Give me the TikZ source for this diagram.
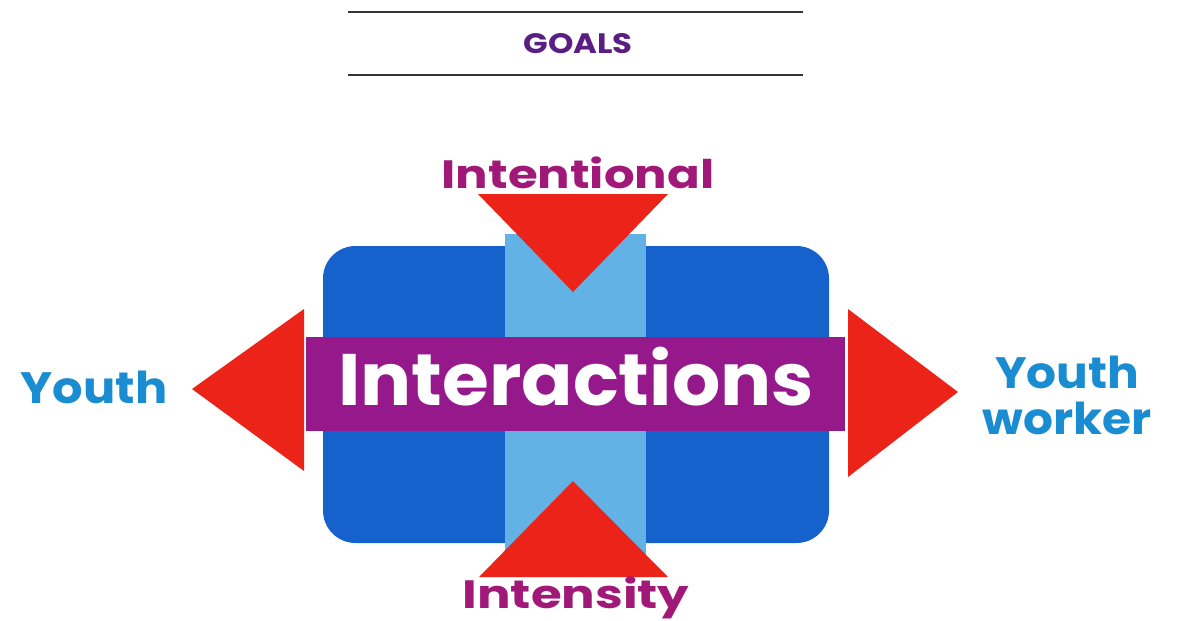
\documentclass[tikz,border=0pt]{standalone}
\usepackage{fontspec}
\setmainfont{Poppins}
\usetikzlibrary{positioning}
\definecolor{boxblue}{RGB}{22,98,205}
\definecolor{bandblue}{RGB}{98,178,230}
\definecolor{bandpurple}{RGB}{150,25,140}
\definecolor{arrowred}{RGB}{235,35,25}
\definecolor{labelmagenta}{RGB}{160,25,120}
\definecolor{labelcyan}{RGB}{25,140,210}
\definecolor{goalpurple}{RGB}{90,30,130}
% the printed face is wider than Poppins
\newcommand{\wide}[2]{\scalebox{#1}[1]{#2}}

\begin{document}
\begin{tikzpicture}[
  x=0.02cm, y=-0.02cm,
  rule/.style={line width=1.1pt, black!80},
  dimlabel/.style={font=\bfseries\fontsize{22.5}{24}\selectfont, text=labelmagenta,
                   inner sep=0pt, anchor=base},
  sidelabel/.style={font=\bfseries\fontsize{25}{26.6}\selectfont, text=labelcyan,
                    inner sep=0pt},
  pointer/.style={fill=arrowred, draw=none}
]
\useasboundingbox (0,0) rectangle (1180,620);

% heading
\node[font=\bfseries\fontsize{16}{18}\selectfont, text=goalpurple, inner sep=0pt,
      anchor=base] (goals) at (578,53) {\wide{1.15}{GOALS}};
\draw[rule] (348,12) -- (803,12);
\draw[rule] (348,75) -- (803,75);

% central block
\fill[boxblue, rounded corners=0.65cm] (323,246) rectangle (829,543);
\fill[bandblue] (505,234) rectangle (646,556);
\node[fill=bandpurple, minimum width=10.78cm, minimum height=1.88cm, inner sep=0pt]
  (inter) at (575.5,384) {};
\node[text=white, font=\bfseries\fontsize{41.5}{44}\selectfont, inner sep=0pt, anchor=base]
  (intertext) at (576,405) {\wide{1.04}{Interactions}};

% pointers
\fill[pointer] (478,194) -- (668,194) -- (573,292) -- cycle;
\fill[pointer] (573,481) -- (668,577) -- (479,577) -- cycle;
\fill[pointer] (192,389) -- (304,309) -- (304,471) -- cycle;
\fill[pointer] (958,392) -- (848,309) -- (848,477) -- cycle;

% labels
\node[dimlabel] (intentional) at (578,188) {\wide{1.22}{Intentional}};
\node[dimlabel] (intensity) at (576,608) {\wide{1.26}{Intensity}};
\node[sidelabel, anchor=base] (youth) at (94,403) {\wide{1.09}{Youth}};
\node[sidelabel] (worker) at (1067,402)
  {\wide{1.07}{\begin{tabular}{@{}c@{}}Youth\\[-0.5pt]worker\end{tabular}}};
\end{tikzpicture}
\end{document}
